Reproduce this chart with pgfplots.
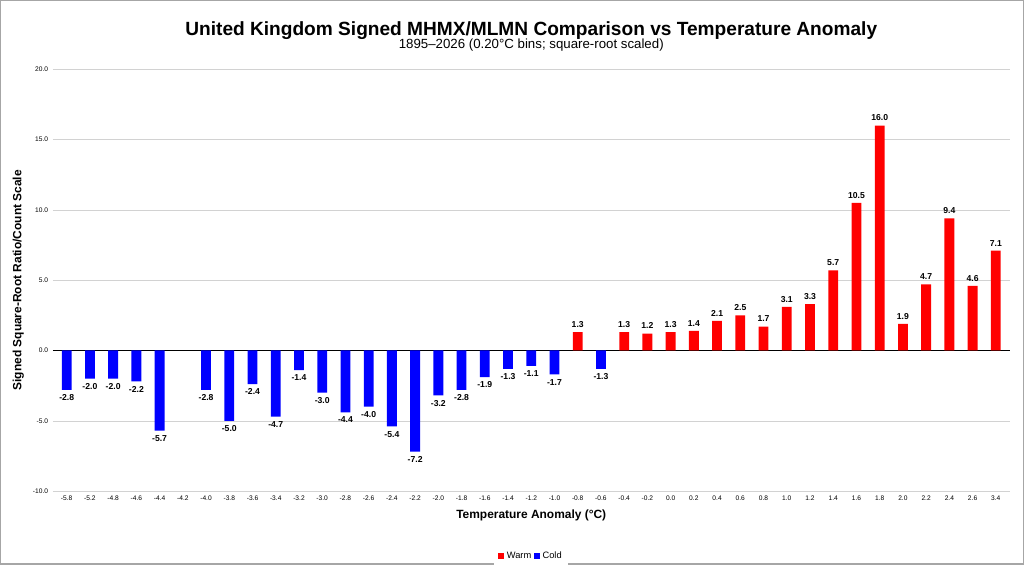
\documentclass[border=0pt]{standalone}
\usepackage{pgfplots}
\pgfplotsset{compat=1.18}
\usepackage{fontspec}
\setmainfont{Liberation Sans}
\begin{document}
\begin{tikzpicture}
\path[draw=gray!70,line width=1pt] (0,0) rectangle (27.09cm,14.92cm);
\begin{axis}[at={(1.38cm,1.93cm)},anchor=south west,
 width=25.35cm,height=11.17cm,scale only axis,
 ymin=-10,ymax=20,ytick={-10,-5,0,5,10,15,20},
 yticklabel style={/pgf/number format/fixed,/pgf/number format/fixed zerofill,/pgf/number format/precision=1},
 /pgf/number format/assume math mode=true,
 ymajorgrids,grid style={gray!35},
 xmin=-0.6,xmax=40.6,xtick={0,...,40},
 xticklabels={-5.8,-5.2,-4.8,-4.6,-4.4,-4.2,-4.0,-3.8,-3.6,-3.4,-3.2,-3.0,-2.8,-2.6,-2.4,-2.2,-2.0,-1.8,-1.6,-1.4,-1.2,-1.0,-0.8,-0.6,-0.4,-0.2,0.0,0.2,0.4,0.6,0.8,1.0,1.2,1.4,1.6,1.8,2.0,2.2,2.4,2.6,3.4},
 tick label style={font=\fontsize{5}{6}\selectfont},
 major tick length=0pt,
 axis line style={draw=none},
 extra y ticks={0},extra y tick labels={},extra y tick style={grid style={black,thin}},
 xlabel={\bfseries\small Temperature Anomaly (°C)},
 ylabel={\bfseries\small Signed Square-Root Ratio/Count Scale},
 title={\bfseries\Large United Kingdom Signed MHMX/MLMN Comparison vs Temperature Anomaly\\[-2pt]1895–2026 (0.20°C bins; square-root scaled)},
 title style={align=center,yshift=4pt},
 ybar,bar width=0.26cm,bar shift=0pt,
 nodes near coords,
 nodes near coords style={font=\fontsize{6.5}{7}\selectfont\bfseries,/pgf/number format/fixed,/pgf/number format/fixed zerofill,/pgf/number format/precision=1},
 legend style={at={(0.5,-0.13)},anchor=north,draw=none,legend columns=2,font=\scriptsize},
 legend image code/.code={\fill[#1] (0,-0.08cm) rectangle (0.16cm,0.08cm);},
 clip=false]
\addplot[fill=red,draw=none] coordinates {
(22,1.3)(24,1.3)(25,1.2)(26,1.3)(27,1.4)(28,2.1)(29,2.5)(30,1.7)(31,3.1)(32,3.3)(33,5.7)(34,10.5)(35,16.0)(36,1.9)(37,4.7)(38,9.4)(39,4.6)(40,7.1)};
\addlegendentry{Warm}
\addplot[fill=blue,draw=none] coordinates {
(0,-2.8)(1,-2.0)(2,-2.0)(3,-2.2)(4,-5.7)(6,-2.8)(7,-5.0)(8,-2.4)(9,-4.7)(10,-1.4)(11,-3.0)(12,-4.4)(13,-4.0)(14,-5.4)(15,-7.2)(16,-3.2)(17,-2.8)(18,-1.9)(19,-1.3)(20,-1.1)(21,-1.7)(23,-1.3)};
\addlegendentry{Cold}
\end{axis}
\end{tikzpicture}
\end{document}
